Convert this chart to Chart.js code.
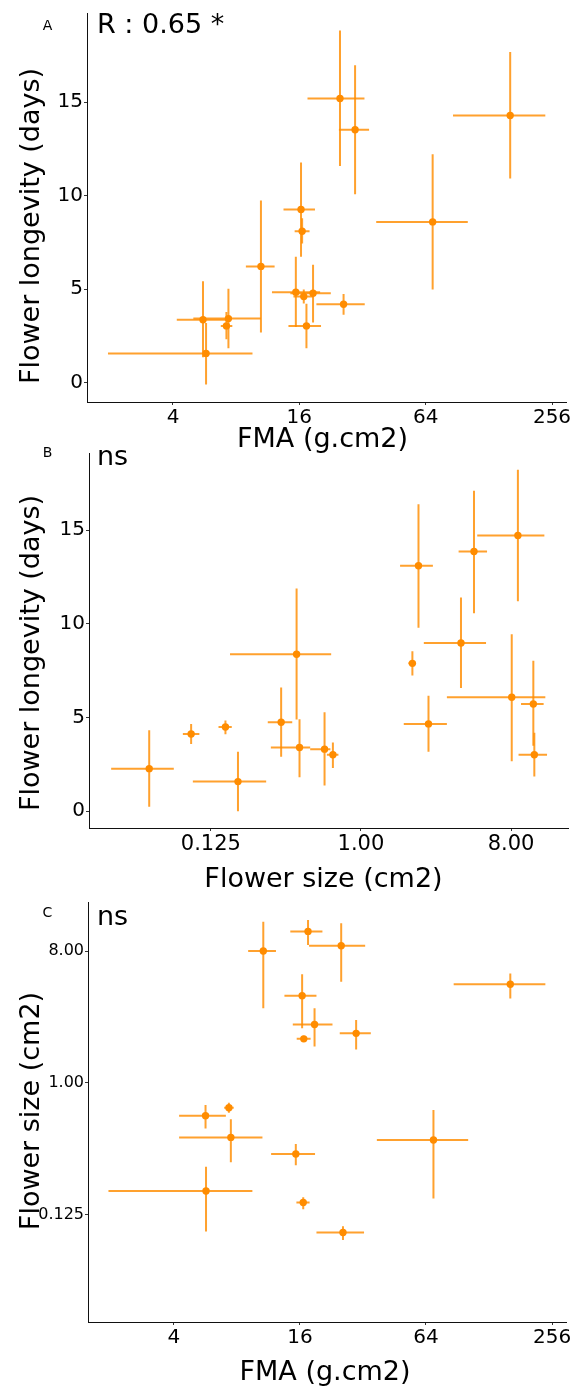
<!DOCTYPE html>
<html><head><meta charset="utf-8">
<script src="https://cdn.jsdelivr.net/npm/chart.js@4.4.1/dist/chart.umd.min.js"></script>
<style>
html,body{margin:0;padding:0;background:#fff;}
body{width:573px;height:1390px;position:relative;overflow:hidden;}
canvas{position:absolute;left:0;}
</style></head><body>
<canvas id="cA" width="573" height="460" style="top:0px"></canvas>
<canvas id="cB" width="573" height="460" style="top:440px"></canvas>
<canvas id="cC" width="573" height="500" style="top:890px"></canvas>
<script>
// ---------- Panel A: FMA vs flower longevity ----------
const fmaA    = [25.0, 29.5, 161.8, 69.1, 16.3, 16.5, 15.4, 16.8, 18.6, 17.3, 26.0, 10.5, 5.56, 7.35, 7.19, 5.75];
const fmaA_lo = [17.5, 24.7, 86.4, 37.2, 13.45, 15.2, 11.85, 15.0, 14.5, 14.2, 19.3, 8.9, 4.17, 5.0, 6.76, 1.96];
const fmaA_hi = [32.7, 34.4, 237.9, 101.6, 19.0, 17.9, 20.1, 18.7, 22.6, 20.3, 32.8, 12.2, 7.4, 10.5, 7.67, 9.57];
const longA    = [15.2, 13.53, 14.29, 8.6, 9.26, 8.1, 4.84, 4.61, 4.79, 3.04, 4.2, 6.22, 3.37, 3.43, 3.04, 1.57];
const longA_lo = [11.59, 10.08, 10.92, 4.98, 6.73, 7.44, 2.98, 4.24, 3.22, 1.84, 3.64, 2.69, 1.36, 1.84, 2.32, -0.1];
const longA_hi = [18.83, 16.97, 17.68, 12.22, 11.78, 8.8, 6.73, 4.98, 6.31, 4.22, 4.75, 9.75, 5.42, 5.02, 3.78, 3.2];

// ---------- Panel B: flower size vs flower longevity ----------
const sizeB    = [2.22, 4.79, 8.8, 4.0, 0.41, 2.04, 0.331, 0.427, 0.604, 0.678, 2.55, 8.08, 10.9, 11.05, 0.0532, 0.0951, 0.153, 0.182];
const sizeB_lo = [1.72, 3.87, 5.01, 2.39, 0.163, 1.93, 0.275, 0.287, 0.495, 0.624, 1.81, 3.29, 9.19, 8.88, 0.0314, 0.0848, 0.139, 0.0974];
const sizeB_hi = [2.71, 5.74, 12.7, 5.66, 0.662, 2.14, 0.386, 0.495, 0.655, 0.732, 3.29, 12.87, 12.57, 13.18, 0.0748, 0.1066, 0.167, 0.269];
const longB    = [13.1, 13.86, 14.72, 8.98, 8.38, 7.89, 4.75, 3.4, 3.31, 3.01, 4.66, 6.08, 5.72, 3.01, 2.27, 4.12, 4.49, 1.58];
const longB_lo = [9.79, 10.57, 11.2, 6.57, 4.9, 7.24, 2.9, 1.81, 1.37, 2.31, 3.17, 2.66, 3.49, 1.85, 0.23, 3.58, 4.1, 0.0];
const longB_hi = [16.39, 17.1, 18.22, 11.41, 11.89, 8.54, 6.6, 4.91, 5.28, 3.66, 6.16, 9.44, 8.03, 4.19, 4.32, 4.66, 4.84, 3.17];

// ---------- Panel C: FMA vs flower size ----------
const fmaC    = [10.7, 5.67, 7.33, 7.49, 17.5, 25.2, 161.8, 16.4, 18.8, 16.7, 29.7, 69.5, 15.3, 5.7, 16.6, 25.7];
const fmaC_lo = [9.06, 4.24, 6.96, 4.24, 14.4, 17.7, 86.8, 13.5, 14.8, 15.45, 24.8, 37.3, 11.66, 1.95, 15.4, 19.2];
const fmaC_hi = [12.3, 7.09, 7.73, 10.6, 20.5, 32.8, 237.9, 19.2, 22.9, 18.0, 34.9, 101.8, 18.9, 9.49, 17.8, 32.4];
const sizeC    = [8.0, 0.594, 0.674, 0.422, 10.9, 8.7, 4.73, 3.95, 2.51, 2.0, 2.18, 0.405, 0.325, 0.181, 0.151, 0.094];
const sizeC_lo = [3.24, 0.486, 0.623, 0.285, 8.8, 4.92, 3.78, 2.36, 1.77, 1.9, 1.69, 0.161, 0.272, 0.0954, 0.136, 0.0835];
const sizeC_hi = [12.7, 0.703, 0.729, 0.561, 13.05, 12.4, 5.62, 5.54, 3.24, 2.1, 2.69, 0.65, 0.38, 0.266, 0.164, 0.104];

// ---------- Ticks ----------
const fmaTicks = [4, 16, 64, 256];
const fmaTickLabels = ['4', '16', '64', '256'];
const longTicks = [0, 5, 10, 15];
const longTickLabels = ['0', '5', '10', '15'];
const sizeTicks = [0.125, 1, 8];
const sizeTickLabelsB = ['0.125', '1.00', '8.00'];
const sizeTickLabelsC = ['0.125', '1.00', '8.00'];

const FONT = "'DejaVu Sans', Verdana, sans-serif";
const ORANGE = '#FF8C00';
const BAR = 'rgba(255,140,0,0.82)';

function makePanel(id, o) {
  const errorPlugin = {
    id: 'err_' + id,
    beforeDatasetsDraw(chart) {
      const c = chart.ctx, xs = chart.scales.x, ys = chart.scales.y;
      c.save();
      c.strokeStyle = BAR; c.lineWidth = 2; c.lineCap = 'butt';
      for (let i = 0; i < o.x.length; i++) {
        const px = xs.getPixelForValue(o.x[i]), py = ys.getPixelForValue(o.y[i]);
        c.beginPath();
        c.moveTo(xs.getPixelForValue(o.xlo[i]), py); c.lineTo(xs.getPixelForValue(o.xhi[i]), py);
        c.moveTo(px, ys.getPixelForValue(o.ylo[i])); c.lineTo(px, ys.getPixelForValue(o.yhi[i]));
        c.stroke();
      }
      c.restore();
    }
  };
  const textPlugin = {
    id: 'txt_' + id,
    afterDraw(chart) {
      const c = chart.ctx;
      c.save();
      c.fillStyle = '#000';
      // panel letter
      c.font = '14px ' + FONT; c.textAlign = 'center'; c.textBaseline = 'alphabetic';
      c.fillText(o.letter, 47.5, o.letterY);
      // annotation
      c.font = '27px ' + FONT; c.textAlign = 'left';
      c.fillText(o.note, 97, o.noteY);
      // x title
      c.textAlign = 'center';
      c.fillText(o.xTitle, o.xTitleX, o.xTitleY);
      // y title
      c.translate(39, o.yTitleY); c.rotate(-Math.PI / 2);
      c.fillText(o.yTitle, 0, 0);
      c.restore();
    }
  };
  const tickFont = (s) => ({ family: FONT, size: s });
  return new Chart(document.getElementById(id), {
    type: 'scatter',
    data: { datasets: [{
      data: o.x.map((v, i) => ({ x: v, y: o.y[i] })),
      pointRadius: 3.7, pointHoverRadius: 3.7, backgroundColor: ORANGE, borderWidth: 0
    }] },
    options: {
      responsive: false, animation: false, events: [],
      layout: { padding: { top: o.padTop, right: o.padRight, left: 0, bottom: 0 } },
      plugins: { legend: { display: false }, tooltip: { enabled: false } },
      scales: {
        x: {
          type: 'logarithmic', min: o.xMin, max: o.xMax, bounds: 'data',
          afterBuildTicks: s => { s.ticks = o.xTicks.map(v => ({ value: v })); },
          afterFit: s => { s.height = o.xH; },
          ticks: { callback: (v, i) => o.xLabels[i], font: tickFont(o.xTickSize), color: '#000', padding: 1, maxRotation: 0, autoSkip: false },
          grid: { display: true, drawOnChartArea: false, drawTicks: true, tickLength: 3, tickColor: '#333', tickWidth: 1 },
          border: { display: true, color: '#111', width: 1 }
        },
        y: {
          type: o.yType, min: o.yMin, max: o.yMax, bounds: 'data',
          afterBuildTicks: s => { s.ticks = o.yTicks.map(v => ({ value: v })); },
          afterFit: s => { s.width = o.yW; },
          ticks: { callback: (v, i) => o.yLabels[i], font: tickFont(o.yTickSize), color: '#000', padding: 1, autoSkip: false },
          grid: { display: true, drawOnChartArea: false, drawTicks: true, tickLength: 3, tickColor: '#333', tickWidth: 1 },
          border: { display: true, color: '#111', width: 1 }
        }
      }
    },
    plugins: [errorPlugin, textPlugin]
  });
}

makePanel('cA', {
  x: fmaA, xlo: fmaA_lo, xhi: fmaA_hi, y: longA, ylo: longA_lo, yhi: longA_hi,
  xMin: 1.557, xMax: 298.5, xTicks: fmaTicks, xLabels: fmaTickLabels, xTickSize: 20,
  yType: 'linear', yMin: -1.03, yMax: 19.77, yTicks: longTicks, yLabels: longTickLabels, yTickSize: 20,
  padTop: 10, padRight: 7, xH: 58, yW: 87,
  letter: 'A', letterY: 30, note: 'R : 0.65 *', noteY: 33,
  xTitle: 'FMA (g.cm2)', xTitleX: 322.5, xTitleY: 447,
  yTitle: 'Flower longevity (days)', yTitleY: 226
});
makePanel('cB', {
  x: sizeB, xlo: sizeB_lo, xhi: sizeB_hi, y: longB, ylo: longB_lo, yhi: longB_hi,
  xMin: 0.0231, xMax: 17.62, xTicks: sizeTicks, xLabels: sizeTickLabelsB, xTickSize: 21,
  yType: 'linear', yMin: -0.898, yMax: 19.12, yTicks: longTicks, yLabels: longTickLabels, yTickSize: 20,
  padTop: 9, padRight: 5, xH: 72, yW: 89,
  letter: 'B', letterY: 17, note: 'ns', noteY: 25,
  xTitle: 'Flower size (cm2)', xTitleX: 323.5, xTitleY: 447,
  yTitle: 'Flower longevity (days)', yTitleY: 213
});
makePanel('cC', {
  x: fmaC, xlo: fmaC_lo, xhi: fmaC_hi, y: sizeC, ylo: sizeC_lo, yhi: sizeC_hi,
  xMin: 1.557, xMax: 298.5, xTicks: fmaTicks, xLabels: fmaTickLabels, xTickSize: 20,
  yType: 'logarithmic', yMin: 0.0229, yMax: 17.34, yTicks: sizeTicks, yLabels: sizeTickLabelsC, yTickSize: 16,
  padTop: 12, padRight: 7, xH: 68, yW: 88,
  letter: 'C', letterY: 27, note: 'ns', noteY: 35,
  xTitle: 'FMA (g.cm2)', xTitleX: 325, xTitleY: 490,
  yTitle: 'Flower size (cm2)', yTitleY: 221
});
</script>
</body></html>
